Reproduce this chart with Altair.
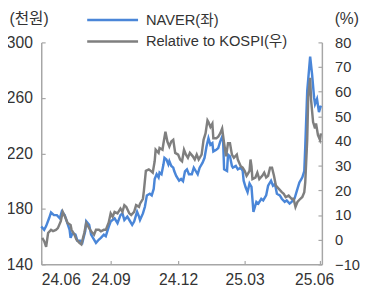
import altair as alt
import pandas as pd

# (trading-session position, value) pairs
naver = [
    (0, 167.3), (3, 164.9), (5, 167.6), (8, 173.2), (10, 177.4), (13, 175.5), (16, 175.5),
    (19, 173.2), (21, 178.1), (24, 175.5), (26, 171.1), (29, 164.9), (30, 159.1), (32, 162.6),
    (35, 161.4), (37, 157.0), (40, 157.0), (42, 155.5), (45, 164.0), (46, 171.1), (49, 168.5),
    (51, 161.4), (54, 157.9), (56, 155.5), (59, 157.9), (61, 159.1), (64, 161.4), (66, 160.3),
    (69, 167.0), (71, 170.9), (75, 173.2), (78, 169.7), (81, 175.5), (83, 176.7), (85, 172.0),
    (88, 174.4), (91, 170.9), (93, 168.5), (95, 170.9), (98, 177.9), (100, 174.4), (101, 172.0),
    (104, 176.7), (106, 181.5), (108, 189.7), (111, 190.9), (113, 189.7), (115, 194.4),
    (116, 201.5), (118, 205.0), (120, 202.7), (121, 206.2), (123, 205.0), (125, 212.1),
    (126, 216.8), (128, 215.6), (130, 212.1), (131, 214.4), (133, 210.9), (135, 209.7),
    (136, 207.3), (138, 203.8), (141, 200.3), (143, 201.5), (145, 200.0), (147, 207.1),
    (149, 208.5), (151, 205.0), (154, 205.0), (156, 209.7), (158, 207.3), (160, 205.0),
    (162, 209.7), (165, 213.3), (167, 216.8), (169, 225.0), (171, 230.9), (173, 226.2),
    (175, 227.4), (176, 221.4), (179, 222.6), (181, 223.8), (183, 228.5), (185, 232.0),
    (186, 228.5), (187, 208.5), (190, 207.3), (191, 219.1), (193, 217.9), (195, 210.9),
    (196, 209.7), (199, 210.9), (201, 208.5), (204, 209.7), (206, 207.3), (207, 200.3),
    (209, 195.6), (211, 192.1), (213, 198.3), (215, 195.8), (217, 177.9), (220, 185.0),
    (222, 183.8), (225, 187.3), (227, 186.1), (230, 189.7), (232, 196.7), (235, 200.3),
    (237, 196.7), (239, 197.9), (241, 190.9), (244, 189.7), (246, 187.3), (249, 185.0),
    (251, 186.1), (254, 183.8), (256, 185.0), (259, 187.3), (261, 192.1), (264, 199.1),
    (266, 201.5), (267, 202.7), (269, 207.3), (270, 225.0), (272, 265.0), (274, 281.5),
    (275, 289.8), (277, 276.8), (279, 260.3), (280, 255.6), (282, 259.2), (284, 249.7),
    (286, 254.4),
]

relative = [
    (1, 0.7), (3, -0.6), (5, -2.9), (7, 2.7), (10, 4.0), (12, 3.5), (15, 4.0), (17, 4.7),
    (20, 7.5), (22, 11.3), (25, 8.7), (27, 6.7), (30, 6.0), (31, 4.0), (34, 2.0), (36, 0.0),
    (39, -1.3), (41, -1.9), (44, 2.7), (46, 6.7), (49, 4.7), (51, 3.4), (54, 2.0), (56, 4.0),
    (59, 4.0), (61, 3.4), (64, 4.0), (66, 4.0), (69, 7.0), (71, 10.7), (73, 9.3), (75, 11.3),
    (78, 10.7), (81, 12.6), (83, 11.3), (85, 14.0), (87, 13.3), (90, 10.7), (92, 10.0),
    (95, 11.3), (97, 14.0), (100, 13.3), (101, 14.6), (104, 16.6), (105, 19.9), (107, 27.9),
    (110, 28.5), (112, 27.9), (114, 27.2), (116, 31.8), (117, 36.5), (120, 35.2), (121, 37.2),
    (124, 36.5), (125, 39.1), (127, 43.8), (129, 39.8), (131, 37.8), (133, 39.8), (135, 40.5),
    (137, 35.2), (140, 34.5), (142, 32.5), (144, 31.8), (146, 36.5), (148, 34.5), (150, 33.2),
    (152, 35.2), (155, 33.8), (157, 32.5), (159, 34.5), (161, 32.5), (164, 34.5), (166, 40.5),
    (168, 43.1), (170, 48.4), (171, 47.7), (173, 45.7), (175, 47.1), (176, 41.1), (179, 41.1),
    (181, 41.8), (183, 43.1), (185, 45.1), (187, 39.1), (189, 33.8), (191, 39.1), (193, 39.1),
    (195, 34.5), (197, 33.2), (200, 34.5), (201, 32.5), (204, 29.8), (206, 29.2), (208, 27.9),
    (210, 25.9), (211, 26.5), (213, 27.9), (214, 32.5), (215, 29.8), (216, 24.6), (219, 25.2),
    (221, 27.2), (223, 24.6), (226, 25.9), (228, 27.2), (230, 25.2), (232, 25.9), (234, 29.2),
    (236, 29.2), (238, 25.9), (240, 21.9), (243, 20.6), (246, 19.3), (248, 18.6), (250, 17.3),
    (253, 17.9), (256, 16.6), (258, 16.6), (260, 13.3), (262, 15.3), (265, 16.6), (267, 17.3),
    (269, 19.3), (270, 23.3), (272, 40.5), (273, 57.7), (275, 65.6), (276, 56.4), (278, 47.7),
    (280, 45.1), (281, 47.1), (283, 42.4), (285, 40.5), (286, 43.1),
]

x_ticks = [0, 71, 140, 208, 285]
x_labels = ["24.06", "24.09", "24.12", "25.03", "25.06"]
left_ticks = [140, 180, 220, 260, 300]
right_ticks = [-10, 0, 10, 20, 30, 40, 50, 60, 70, 80]
series = ["NAVER(좌)", "Relative to KOSPI(우)"]
colors = ["#4A86D8", "#7F7F7F"]

FONT = "Liberation Sans, Noto Sans CJK KR, sans-serif"
TXT = "#333333"
AX = "#A6A6A6"

df_n = pd.DataFrame(naver, columns=["t", "v"])
df_n["s"] = series[0]
df_r = pd.DataFrame(relative, columns=["t", "v"])
df_r["s"] = series[1]

label_expr = (
    "[" + ",".join("'%s'" % l for l in x_labels) + "][indexof(["
    + ",".join(str(v) for v in x_ticks) + "], datum.value)]"
)

x_enc = alt.X(
    "t:Q",
    scale=alt.Scale(domain=[0, 287], nice=False, zero=False),
    axis=alt.Axis(
        values=x_ticks,
        labelExpr=label_expr,
        title=None,
        grid=False,
        tickSize={"expr": "-4"},
        labelPadding=12,
        labelOffset={"condition": {"test": "datum.value > 280", "value": -6}, "value": 0},
    ),
)

color = alt.Color(
    "s:N",
    scale=alt.Scale(domain=series, range=colors),
    legend=alt.Legend(
        title=None,
        orient="none",
        legendX=65,
        legendY=-31,
        symbolType="M-4,0H4",
        symbolSize=169,
        symbolStrokeWidth=2.5,
        labelOffset=26,
        labelFontSize=15,
        labelFont=FONT,
        labelColor=TXT,
        rowPadding=6,
        padding=0,
    ),
)

blue = alt.Chart(df_n).mark_line(strokeWidth=2.5).encode(
    x=x_enc,
    y=alt.Y(
        "v:Q",
        scale=alt.Scale(domain=[140, 300], nice=False, zero=False),
        axis=alt.Axis(
            orient="left",
            values=left_ticks,
            grid=False,
            tickSize={"expr": "-4"},
            labelPadding=13,
            title="(천원)",
            titleAngle=0,
            titleX=-13,
            titleY=-19,
            titleAlign="center",
            titleBaseline="alphabetic",
            titleFontWeight="normal",
            titleFontSize=16,
            titleFont=FONT,
            titleColor=TXT,
        ),
    ),
    color=color,
)

gray = alt.Chart(df_r).mark_line(strokeWidth=2.5).encode(
    x=x_enc,
    y=alt.Y(
        "v:Q",
        scale=alt.Scale(domain=[-10, 80], nice=False, zero=False),
        axis=alt.Axis(
            orient="right",
            values=right_ticks,
            grid=False,
            tickSize={"expr": "-4"},
            labelPadding=17,
            labelFontSize=15,
            title="(%)",
            titleAngle=0,
            titleX=25,
            titleY=-19,
            titleAlign="center",
            titleBaseline="alphabetic",
            titleFontWeight="normal",
            titleFontSize=16,
            titleFont=FONT,
            titleColor=TXT,
        ),
    ),
    color=color,
)

chart = (
    alt.layer(blue, gray)
    .resolve_scale(y="independent")
    .properties(
        width=287,
        height=227,
        autosize=alt.AutoSizeParams(type="none"),
        padding={"left": 34, "top": 32, "right": 40, "bottom": 21},
    )
    .configure_view(stroke=None)
    .configure_axis(
        labelFont=FONT,
        labelFontSize=16,
        labelColor=TXT,
        domainColor=AX,
        tickColor=AX,
        domainWidth=1.5,
        tickWidth=1.2,
    )
)

chart.save("out.html", embed_options={"renderer": "svg", "actions": False})
